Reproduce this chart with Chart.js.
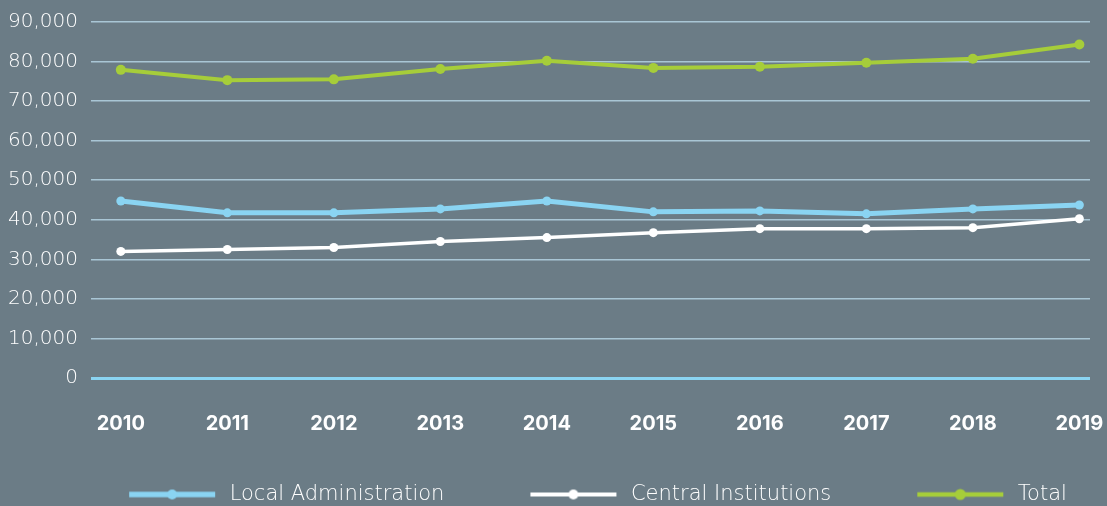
<!DOCTYPE html>
<html>
<head>
<meta charset="utf-8">
<script src="https://cdn.jsdelivr.net/npm/chart.js@4/dist/chart.umd.min.js"></script>
<style>
  html, body { margin: 0; padding: 0; background: #6b7c86; }
  #wrap { width: 1107px; height: 506px; }
</style>
</head>
<body>
<div id="wrap"><canvas id="staffChart"></canvas></div>
<script>
const years = [2010, 2011, 2012, 2013, 2014, 2015, 2016, 2017, 2018, 2019];
const localAdmin = [44750, 41750, 41750, 42750, 44750, 42000, 42250, 41500, 42750, 43750];
const centralInst = [32000, 32500, 33000, 34500, 35500, 36750, 37750, 37750, 38000, 40250];
const total = [77900, 75300, 75500, 78100, 80200, 78400, 78700, 79700, 80700, 84300];
const seriesNames = ['Local Administration', 'Central Institutions', 'Total'];

const LIGHT = '"DejaVu Sans", sans-serif';
const BOLD = 'Inter, Lato, sans-serif';

// legend swatch: long line with a dot, blank space on the left acts as the gap between items
function legendSwatch(color, lineW, dotR) {
    const c = document.createElement('canvas');
    c.width = 170;
    c.height = 14;
    const g = c.getContext('2d');
    g.strokeStyle = color;
    g.lineWidth = lineW;
    g.beginPath();
    g.moveTo(80, 7);
    g.lineTo(166, 7);
    g.stroke();
    g.fillStyle = color;
    g.beginPath();
    g.arc(123, 7, dotR, 0, Math.PI * 2);
    g.fill();
    return c;
}

function toPoints(values) {
    return values.map((v, i) => ({ x: years[i], y: v }));
}

const colors = ['#8ad4f2', '#ffffff', '#a6cd3a'];
const widths = [5, 3.5, 4];
const radii = [4.5, 4.5, 5];
const swatches = colors.map((c, i) => legendSwatch(c, widths[i] + 0.5, radii[i] + 0.5));

// nudge the legend a little to the right, like the original
const legendShift = {
    id: 'legendShift',
    afterLayout(chart) {
        chart.legend.left += 9;
        chart.legend.right += 9;
    }
};

const ctx = document.getElementById('staffChart').getContext('2d');

new Chart(ctx, {
    type: 'line',
    data: {
        datasets: [localAdmin, centralInst, total].map((vals, i) => ({
            label: seriesNames[i],
            data: toPoints(vals),
            borderColor: colors[i],
            backgroundColor: colors[i],
            borderWidth: widths[i],
            pointRadius: radii[i],
            pointHoverRadius: radii[i],
            pointBorderWidth: 0,
            pointStyle: 'circle',
            tension: 0,
            fill: false
        }))
    },
    plugins: [legendShift],
    options: {
        responsive: true,
        maintainAspectRatio: false,
        animation: false,
        layout: { padding: { top: 22, right: 17, left: 8, bottom: -9 } },
        scales: {
            x: {
                type: 'linear',
                min: 2009.72,
                max: 2019.1,
                afterBuildTicks: axis => {
                    axis.ticks = years.map(y => ({ value: y }));
                },
                afterFit: axis => {
                    axis.paddingLeft = 0;
                    axis.paddingRight = 0;
                    axis.height += 16;
                },
                grid: { display: false },
                border: { display: false },
                ticks: {
                    color: '#ffffff',
                    font: { family: BOLD, size: 20, weight: 'bold' },
                    padding: 26,
                    maxRotation: 0,
                    autoSkip: false,
                    callback: v => String(v)
                }
            },
            y: {
                min: 0,
                max: 90000,
                afterFit: axis => {
                    axis.width = 83;
                    axis.paddingTop = 0;
                    axis.paddingBottom = 0;
                },
                border: { display: false },
                grid: {
                    drawTicks: false,
                    color: c => c.tick && c.tick.value === 0 ? '#8ad4f2' : '#a9c6d5',
                    lineWidth: c => c.tick && c.tick.value === 0 ? 3 : 1.5
                },
                ticks: {
                    stepSize: 10000,
                    color: '#ffffff',
                    padding: 13,
                    font: { family: LIGHT, size: 20, weight: 200 },
                    callback: v => v.toLocaleString('en-US')
                }
            }
        },
        plugins: {
            tooltip: { enabled: false },
            legend: {
                position: 'bottom',
                labels: {
                    usePointStyle: true,
                    pointStyleWidth: 170,
                    boxHeight: 14,
                    padding: 6,
                    color: '#ffffff',
                    font: { family: LIGHT, size: 21, weight: 200 },
                    generateLabels: chart => chart.data.datasets.map((ds, i) => ({
                        text: ds.label,
                        fontColor: '#ffffff',
                        pointStyle: swatches[i],
                        datasetIndex: i,
                        hidden: false,
                        lineWidth: 0
                    }))
                }
            }
        }
    }
});
</script>
</body>
</html>
